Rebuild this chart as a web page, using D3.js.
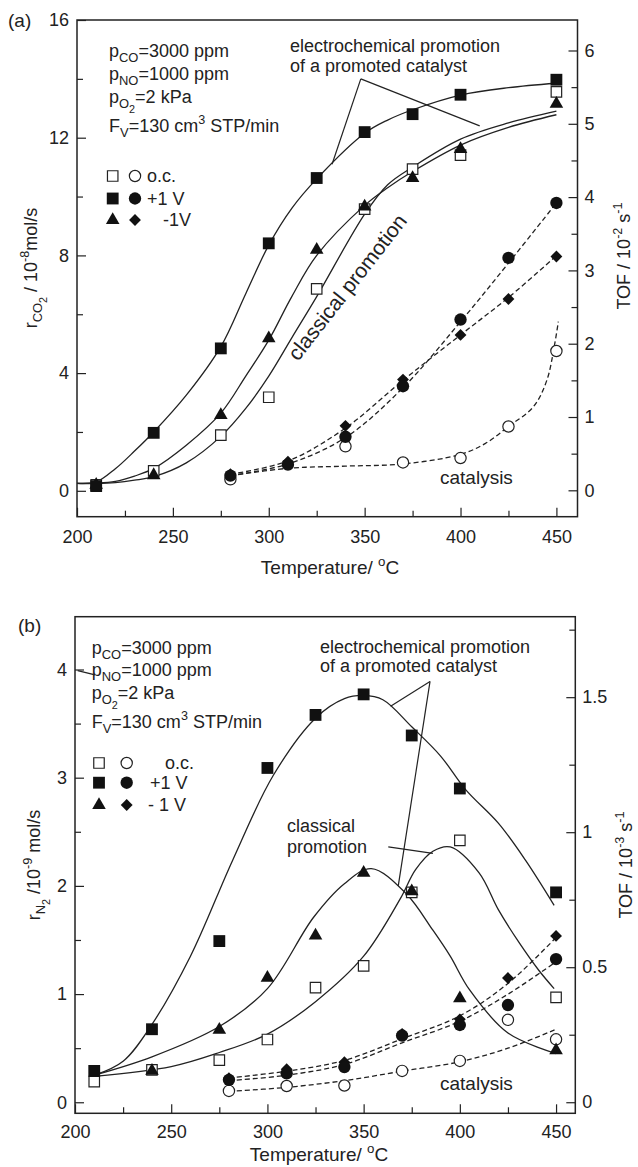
<!DOCTYPE html>
<html>
<head>
<meta charset="utf-8">
<script src="https://cdn.jsdelivr.net/npm/d3@7"></script>
<style>
  body { margin: 0; background: #fff; }
  svg { display: block; }
  text { font-family: "Liberation Sans", Arial, sans-serif; fill: #222; }
</style>
</head>
<body>
<svg id="chart" width="638" height="1167"></svg>
<script>
// ---------- panel (a): CO2 formation rate (10^-8 mol/s) ----------
var tempsA = [210, 240, 275, 300, 325, 350, 375, 400, 450];
var co2Plus = [0.16, 1.97, 4.84, 8.41, 10.63, 12.19, 12.8, 13.46, 13.97];
var co2OC = [0.2, 0.68, 1.89, 3.18, 6.86, 9.57, 10.93, 11.41, 13.56];
var co2Minus = [0.2, 0.53, 2.57, 5.18, 8.19, 9.66, 10.63, 11.61, 13.15];

// panel (a): TOF (10^-2 s^-1)
var tofTempsA = [280, 310, 340, 370, 400, 425, 450];
var tofAPlus = [0.2, 0.35, 0.73, 1.42, 2.33, 3.17, 3.92];
var tofAMinus = [0.22, 0.39, 0.88, 1.51, 2.12, 2.61, 3.19];
var tofAOC = [0.15, null, 0.6, 0.38, 0.44, 0.87, 1.9];

// panel (a): fitted curves
var fitTempsA = [200, 210, 220, 230, 240, 257, 275, 288, 300, 312, 325, 350, 362, 375, 400, 425, 450];
var fitCo2Plus = [0.25, 0.3, 0.75, 1.35, 2.0, 3.25, 4.9, 6.7, 8.35, 9.6, 10.6, 12.15, 12.6, 12.95, 13.45, 13.7, 13.85];
var fitCo2Minus = [0.25, 0.26, 0.32, 0.5, 0.76, 1.55, 2.64, 3.9, 5.12, 6.6, 8.0, 9.7, 10.3, 10.85, 11.75, 12.35, 12.78];
var fitCo2OC = [0.25, 0.25, 0.28, 0.36, 0.48, 0.95, 1.85, 2.8, 3.9, 5.2, 6.6, 9.4, 10.4, 11.0, 11.95, 12.5, 12.9];
var fitTofTempsA = [280, 310, 340, 370, 400, 425, 450];
var fitTofAPlus = [0.2, 0.36, 0.72, 1.4, 2.3, 3.1, 3.92];
var fitTofAMinus = [0.22, 0.4, 0.85, 1.5, 2.12, 2.63, 3.2];
var fitOCTempsA = [280, 310, 340, 370, 400, 413, 425, 438, 445, 449, 451];
var fitTofAOC = [0.2, 0.3, 0.33, 0.36, 0.49, 0.64, 0.87, 1.14, 1.5, 1.98, 2.3];

// ---------- panel (b): N2 formation rate (10^-9 mol/s) ----------
var tempsB = [210, 240, 275, 300, 325, 350, 375, 400, 450];
var n2Plus = [0.29, 0.675, 1.49, 3.09, 3.58, 3.77, 3.39, 2.9, 1.94];
var n2OC = [0.19, 0.3, 0.39, 0.58, 1.06, 1.26, 1.94, 2.42, 0.97];
var n2Minus = [null, 0.29, 0.67, 1.15, 1.54, 2.12, 1.95, 0.96, 0.48];

// panel (b): TOF (10^-3 s^-1)
var tofTempsB = [280, 310, 340, 370, 400, 425, 450];
var tofBPlus = [0.083, 0.107, 0.13, 0.247, 0.286, 0.36, 0.53];
var tofBMinus = [0.089, 0.122, 0.148, 0.253, 0.307, 0.46, 0.616];
var tofBOC = [0.042, 0.06, 0.062, 0.116, 0.153, 0.305, 0.233];

// panel (b): fitted curves
var fitTempsBPlus = [210, 225, 240, 260, 282, 303, 325, 340, 350, 360, 375, 390, 403, 420, 434, 449];
var fitN2Plus = [0.25, 0.38, 0.72, 1.35, 2.24, 3.02, 3.55, 3.73, 3.76, 3.72, 3.47, 3.2, 2.89, 2.58, 2.24, 1.82];
var fitTempsBMinus = [210, 240, 275, 300, 324, 340, 354, 372, 386, 395, 405, 425, 450];
var fitN2Minus = [0.25, 0.42, 0.7, 1.05, 1.71, 2.02, 2.16, 1.93, 1.59, 1.35, 1.04, 0.64, 0.45];
var fitTempsBOC = [210, 250, 275, 300, 325, 350, 369, 377, 386, 395, 410, 420, 431, 441, 449];
var fitN2OC = [0.24, 0.33, 0.46, 0.63, 0.93, 1.35, 1.88, 2.15, 2.32, 2.36, 2.12, 1.78, 1.47, 1.22, 1.05];
var fitTofTempsB = [280, 310, 340, 370, 400, 425, 450];
var fitTofBPlus = [0.08, 0.1, 0.14, 0.22, 0.3, 0.4, 0.52];
var fitTofBMinus = [0.09, 0.115, 0.155, 0.235, 0.32, 0.44, 0.61];
var fitTofBOC = [0.04, 0.055, 0.08, 0.115, 0.15, 0.2, 0.27];

// ticks
var xTicks = [200, 250, 300, 350, 400, 450];
var xMinor = [225, 275, 325, 375, 425];

var svg = d3.select('#chart');
var ink = '#222';

function richText(g, x, y, parts, size) {
  var t = g.append('text').attr('x', x).attr('y', y).style('font-size', size + 'px');
  var shift = 0;
  parts.forEach(function(p) {
    var kind = p[1];
    var s = 0, f = 1;
    if (kind === 'sub') { s = size * 0.3; f = 0.72; }
    if (kind === 'subsub') { s = size * 0.55; f = 0.6; }
    if (kind === 'sup') { s = -size * 0.42; f = 0.7; }
    t.append('tspan').attr('dy', s - shift).style('font-size', (size * f) + 'px').text(p[0]);
    shift = s;
  });
  return t;
}

function symbolPath(shape) {
  if (shape === 'square') return d3.symbol().type(d3.symbolSquare).size(140)();
  if (shape === 'osquare') return d3.symbol().type(d3.symbolSquare).size(110)();
  if (shape === 'circle') return d3.symbol().type(d3.symbolCircle).size(120)();
  if (shape === 'ocircle') return d3.symbol().type(d3.symbolCircle).size(100)();
  if (shape === 'triangle') return d3.symbol().type(d3.symbolTriangle).size(80)();
  return d3.symbol().type(d3.symbolSquare).size(70)();
}

function marker(g, cx, cy, shape) {
  var open = shape === 'osquare' || shape === 'ocircle';
  g.append('path')
    .attr('transform', 'translate(' + cx + ',' + cy + ')' + (shape === 'diamond' ? ' rotate(45)' : ''))
    .attr('d', symbolPath(shape))
    .attr('fill', open ? '#fff' : '#111')
    .attr('stroke', open ? ink : 'none')
    .attr('stroke-width', 1.2);
}

function axisStyle(a, size) {
  a.attr('font-family', null).attr('font-size', null);
  a.select('.domain').remove();
  a.selectAll('line').attr('stroke', ink).attr('stroke-width', 1.2);
  a.selectAll('text').attr('fill', ink).style('font-size', size + 'px');
}

var conditionLines = [
  [['p'], ['CO', 'sub'], ['=3000 ppm']],
  [['p'], ['NO', 'sub'], ['=1000 ppm']],
  [['p'], ['O', 'sub'], ['2', 'subsub'], ['=2 kPa']],
  [['F'], ['V', 'sub'], ['=130 cm'], ['3', 'sup'], [' STP/min']]
];

function drawPanel(p) {
  var g = svg.append('g');
  var x = d3.scaleLinear().domain(p.xDomain).range([p.left, p.right]);
  var y = d3.scaleLinear().domain(p.yDomain).range([p.bottom, p.top]);
  var y2 = d3.scaleLinear().domain(p.y2Domain).range([p.bottom, p.top]);

  // axes (ticks inward)
  var ax = g.append('g').attr('transform', 'translate(0,' + p.bottom + ')')
    .call(d3.axisBottom(x).tickValues(xTicks).tickSize(-9).tickPadding(p.xPad).tickFormat(d3.format('d')));
  axisStyle(ax, 18);
  var axm = g.append('g').attr('transform', 'translate(0,' + p.bottom + ')')
    .call(d3.axisBottom(x).tickValues(xMinor).tickSize(-6).tickFormat(''));
  axisStyle(axm, 18);
  var ay = g.append('g').attr('transform', 'translate(' + p.left + ',0)')
    .call(d3.axisLeft(y).tickValues(p.yTicks).tickSize(-9).tickPadding(8).tickFormat(d3.format('~g')));
  axisStyle(ay, 18);
  var aym = g.append('g').attr('transform', 'translate(' + p.left + ',0)')
    .call(d3.axisLeft(y).tickValues(p.yMinor).tickSize(-6).tickFormat(''));
  axisStyle(aym, 18);
  var ay2 = g.append('g').attr('transform', 'translate(' + p.right + ',0)')
    .call(d3.axisRight(y2).tickValues(p.y2Ticks).tickSize(-9).tickPadding(7).tickFormat(d3.format('~g')));
  axisStyle(ay2, 18);
  var ay2m = g.append('g').attr('transform', 'translate(' + p.right + ',0)')
    .call(d3.axisRight(y2).tickValues(p.y2Minor).tickSize(-6).tickFormat(''));
  axisStyle(ay2m, 18);

  g.append('rect')
    .attr('x', p.left).attr('y', p.top)
    .attr('width', p.right - p.left).attr('height', p.bottom - p.top)
    .attr('fill', 'none').attr('stroke', ink).attr('stroke-width', 1.5);

  // fitted curves
  function curve(temps, vals, scale, dashed) {
    var line = d3.line()
      .x(function(d) { return x(d[0]); })
      .y(function(d) { return scale(d[1]); })
      .curve(d3.curveCatmullRom.alpha(0.5));
    g.append('path')
      .attr('d', line(d3.zip(temps, vals)))
      .attr('fill', 'none')
      .attr('stroke', ink)
      .attr('stroke-width', 1.3)
      .attr('stroke-dasharray', dashed ? '5,3' : null);
  }
  p.solid.forEach(function(c) { curve(c[0], c[1], y, false); });
  p.dashed.forEach(function(c) { curve(c[0], c[1], y2, true); });

  // annotation leader lines
  p.leaders.forEach(function(l) {
    g.append('line')
      .attr('x1', x(l[0][0])).attr('y1', y(l[0][1]))
      .attr('x2', x(l[1][0])).attr('y2', y(l[1][1]))
      .attr('stroke', ink).attr('stroke-width', 1.2);
  });

  // markers: open first, filled on top
  p.series.forEach(function(s) {
    var scale = s.right ? y2 : y;
    d3.zip(s.temps, s.vals).forEach(function(d) {
      if (d[1] == null) return;
      marker(g, x(d[0]), scale(d[1]), s.shape);
    });
  });

  // panel label
  g.append('text').attr('x', p.labelX).attr('y', p.labelY).style('font-size', '19px').text(p.label);

  // conditions
  conditionLines.forEach(function(line, i) {
    richText(g, p.condX, p.condY[i], line, 18);
  });

  // legend
  var legendShapes = [['osquare', 'ocircle'], ['square', 'circle'], ['triangle', 'diamond']];
  legendShapes.forEach(function(pair, i) {
    marker(g, p.legX[0], p.legY[i], pair[0]);
    marker(g, p.legX[1], p.legY[i], pair[1]);
    g.append('text').attr('x', p.legTextX[i]).attr('y', p.legY[i] + 6)
      .style('font-size', '18px').text(p.legText[i]);
  });

  // annotations
  g.append('text').attr('x', p.ecpX).attr('y', p.ecpY[0]).style('font-size', '18px').text('electrochemical promotion');
  g.append('text').attr('x', p.ecpX).attr('y', p.ecpY[1]).style('font-size', '18px').text('of a promoted catalyst');
  g.append('text').attr('x', p.catX).attr('y', p.catY).style('font-size', '19px').text('catalysis');

  // axis titles
  richText(g, p.xTitleX, p.xTitleY, [['Temperature/ '], ['o', 'sup'], ['C']], 19)
    .attr('text-anchor', 'middle');
  richText(g, 0, 0, p.yTitle, 18)
    .attr('text-anchor', 'middle')
    .attr('transform', 'translate(' + p.yTitlePos[0] + ',' + p.yTitlePos[1] + ') rotate(-90)');
  richText(g, 0, 0, p.y2Title, 18)
    .attr('text-anchor', 'middle')
    .attr('transform', 'translate(' + p.y2TitlePos[0] + ',' + p.y2TitlePos[1] + ') rotate(-90)');

  return { g: g, x: x, y: y };
}

// ---- panel (a)
var pa = drawPanel({
  left: 77, right: 577.5, top: 20, bottom: 516.7, xPad: 13.5,
  xDomain: [200, 461], yDomain: [-0.88, 16.0], y2Domain: [-0.36, 6.416],
  yTicks: [0, 4, 8, 12, 16], yMinor: [2, 6, 10, 14],
  y2Ticks: [0, 1, 2, 3, 4, 5, 6], y2Minor: [0.5, 1.5, 2.5, 3.5, 4.5, 5.5],
  solid: [[fitTempsA, fitCo2Plus], [fitTempsA, fitCo2Minus], [fitTempsA, fitCo2OC]],
  dashed: [[fitTofTempsA, fitTofAPlus], [fitTofTempsA, fitTofAMinus], [fitOCTempsA, fitTofAOC]],
  leaders: [[[348, 14.0], [333, 11.1]], [[348, 14.0], [410, 12.4]]],
  series: [
    { temps: tempsA, vals: co2OC, shape: 'osquare' },
    { temps: tofTempsA, vals: tofAOC, shape: 'ocircle', right: true },
    { temps: tempsA, vals: co2Minus, shape: 'triangle' },
    { temps: tempsA, vals: co2Plus, shape: 'square' },
    { temps: tofTempsA, vals: tofAMinus, shape: 'diamond', right: true },
    { temps: tofTempsA, vals: tofAPlus, shape: 'circle', right: true }
  ],
  label: '(a)', labelX: 8, labelY: 27,
  condX: 109, condY: [57, 80, 103, 132],
  legX: [112.7, 135], legY: [176, 198.5, 220], legTextX: [147, 147, 163],
  legText: ['o.c.', '+1 V', '-1V'],
  ecpX: 290, ecpY: [52, 72], catX: 440, catY: 484,
  xTitleX: 330, xTitleY: 574,
  yTitle: [['r'], ['CO', 'sub'], ['2', 'subsub'], [' / 10'], ['-8', 'sup'], ['mol/s']],
  yTitlePos: [37, 268],
  y2Title: [['TOF / 10'], ['-2', 'sup'], [' s'], ['-1', 'sup']],
  y2TitlePos: [630, 256]
});
pa.g.append('text')
  .attr('transform', 'translate(298,362) rotate(-52)')
  .style('font-size', '21px')
  .text('classical promotion');

// ---- panel (b)
var pb = drawPanel({
  left: 75, right: 575.3, top: 616.7, bottom: 1113.3, xPad: 12,
  xDomain: [200, 460], yDomain: [-0.102, 4.488], y2Domain: [-0.041, 1.798],
  yTicks: [0, 1, 2, 3, 4], yMinor: [0.5, 1.5, 2.5, 3.5],
  y2Ticks: [0, 0.5, 1, 1.5], y2Minor: [0.25, 0.75, 1.25, 1.75],
  solid: [[fitTempsBPlus, fitN2Plus], [fitTempsBMinus, fitN2Minus], [fitTempsBOC, fitN2OC]],
  dashed: [[fitTofTempsB, fitTofBPlus], [fitTofTempsB, fitTofBMinus], [fitTofTempsB, fitTofBOC]],
  leaders: [[[384.5, 3.89], [364, 3.66]], [[384.5, 3.89], [368, 2.0]],
            [[362.8, 2.36], [386, 2.3]], [[201.4, 3.99], [210.4, 3.95]]],
  series: [
    { temps: tempsB, vals: n2OC, shape: 'osquare' },
    { temps: tofTempsB, vals: tofBOC, shape: 'ocircle', right: true },
    { temps: tempsB, vals: n2Minus, shape: 'triangle' },
    { temps: tempsB, vals: n2Plus, shape: 'square' },
    { temps: tofTempsB, vals: tofBMinus, shape: 'diamond', right: true },
    { temps: tofTempsB, vals: tofBPlus, shape: 'circle', right: true }
  ],
  label: '(b)', labelX: 18, labelY: 632,
  condX: 91.7, condY: [654, 676, 699, 728],
  legX: [99, 126.7], legY: [763, 782.7, 805], legTextX: [165, 150, 148],
  legText: ['o.c.', '+1 V', '- 1 V'],
  ecpX: 320, ecpY: [653, 672], catX: 440, catY: 1090,
  xTitleX: 319, xTitleY: 1161,
  yTitle: [['r'], ['N', 'sub'], ['2', 'subsub'], [' /10'], ['-9', 'sup'], [' mol/s']],
  yTitlePos: [40, 865],
  y2Title: [['TOF / 10'], ['-3', 'sup'], [' s'], ['-1', 'sup']],
  y2TitlePos: [632, 865]
});
pb.g.append('text').attr('x', 287).attr('y', 832).style('font-size', '18px').text('classical');
pb.g.append('text').attr('x', 287).attr('y', 853).style('font-size', '18px').text('promotion');
</script>
</body>
</html>
